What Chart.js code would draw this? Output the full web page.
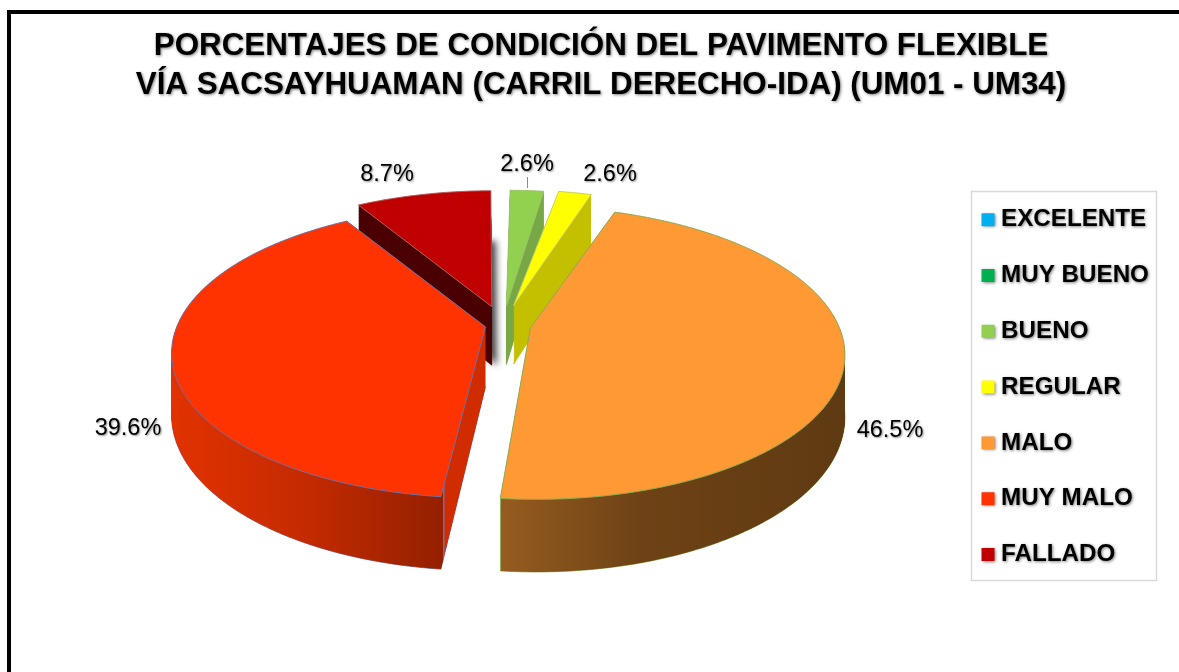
<!DOCTYPE html>
<html><head><meta charset="utf-8">
<style>
html,body{margin:0;padding:0;background:#fff;overflow:hidden;width:1179px;height:672px}
#frame{position:absolute;left:7px;top:10px;width:2000px;height:2000px;border:4px solid #000}
canvas{position:absolute;left:0;top:0}
</style>
<script src="https://cdn.jsdelivr.net/npm/chart.js@4"></script>
</head><body><div id="frame"></div><canvas id="c" width="1179" height="672"></canvas>
<script>
const titleLines = ['PORCENTAJES DE CONDICIÓN DEL PAVIMENTO FLEXIBLE','VÍA SACSAYHUAMAN (CARRIL DERECHO-IDA) (UM01 - UM34)'];
const categories = ['EXCELENTE','MUY BUENO','BUENO','REGULAR','MALO','MUY MALO','FALLADO'];
const values = [0,0,2.6,2.6,46.5,39.6,8.7];
const faceColors = ['#00B0F0','#00B050','#92D050','#FFFF00','#FF9933','#FF3300','#C00000'];
const edgeColors = ['#9ac46a','#9ac46a','#9ac46a','#c8d060','#8fae55','#6f6fa8','#b06060'];
// Chart.js shifts an arc by offset/4
const explode = [0,0,170,180,112,72,170];
const labelX = [null,null,527,610,890,128,387];
const labelY = [null,null,165,175,431,429,175];
// draw order: back slices first
const paintOrder = [6,2,3,4,5];
// 3D view
const V = {Xc:503, Yc:325, k:0.459, q:0.17, R:308, H:60};

function sideFill(ctx,i){
  const g = ctx.createLinearGradient(0,0,1179,0);
  const st=(x,c)=>g.addColorStop(Math.min(1,x/1179),c);
  if(i===6){st(0,'#4a0000');st(1179,'#4a0000');}
  else if(i===2){st(0,'#78a845');st(1179,'#78a845');}
  else if(i===3){st(0,'#c4c000');st(1179,'#c4c000');}
  else if(i===4){st(0,'#8fae55');st(501,'#8fae55');st(501.5,'#955c20');st(640,'#6e4215');st(850,'#5e3a12');st(1179,'#5e3a12');}
  else if(i===5){st(170,'#e23200');st(300,'#c62b00');st(443,'#942000');st(443.2,'#6f6fa8');st(444.4,'#6f6fa8');st(444.6,'#d02c00');st(1179,'#d02c00');}
  return g;
}

function projector(real,arc,z){
  let tx=0,ty=0;const stack=[];
  const P=(x,y)=>{
    const ux=x+tx-arc.x, uy=y+ty-arc.y, s=1/(1-V.q*uy/V.R);
    return [V.Xc+ux*s, V.Yc+V.k*uy*s+z*s];
  };
  // the library grows an exploded arc's radius; hold every rim point at the view radius
  const line=(x,y)=>{
    const dx=x-arc.x,dy=y-arc.y,d=Math.hypot(dx,dy);
    if(d>V.R){x=arc.x+dx*V.R/d;y=arc.y+dy*V.R/d;}
    const p=P(x,y);real.lineTo(p[0],p[1]);
  };
  const api={
    save(){stack.push([tx,ty]);real.save();},
    restore(){[tx,ty]=stack.pop();real.restore();},
    translate(a,b){tx+=a;ty+=b;},
    lineTo:line,
    moveTo(x,y){const p=P(x,y);real.moveTo(p[0],p[1]);},
    arc(x,y,r,a0,a1,ccw){
      if(r<=0){line(x,y);return;}
      r=V.R;
      if(ccw){while(a1>a0)a1-=Math.PI*2;}else{while(a1<a0)a1+=Math.PI*2;}
      const n=Math.max(2,Math.ceil(Math.abs(a1-a0)/0.01));
      for(let j=0;j<=n;j++){const a=a0+(a1-a0)*j/n;line(x+r*Math.cos(a),y+r*Math.sin(a));}
    }
  };
  return new Proxy(real,{
    get(t,p){if(p in api)return api[p];const v=t[p];return typeof v==='function'?v.bind(t):v;},
    set(t,p,v){t[p]=v;return true;}
  });
}

const pie3d = {
  id:'pie3d',
  beforeDraw(chart){
    const c=chart.ctx;
    c.save();c.fillStyle='#fff';c.strokeStyle='#d9d9d9';c.lineWidth=1.5;
    c.fillRect(971.5,191.5,185,389);c.strokeRect(971.5,191.5,185,389);c.restore();
    c.shadowColor='rgba(0,0,0,0.5)';c.shadowBlur=3;c.shadowOffsetX=1;c.shadowOffsetY=1;
  },
  afterLayout(chart){
    const t=chart.titleBlock;t.left=23;t.right=1179;t.width=1156;t.top=27;t.bottom=t.top+t.height;
    const l=chart.legend,w=l.width,h=l.height;
    l.left=987-l.options.labels.padding;l.right=l.left+w;l.top=176;l.bottom=l.top+h;
  },
  beforeDatasetDraw(chart){
    const c=chart.ctx;
    c.shadowColor='transparent';c.shadowBlur=0;c.shadowOffsetX=0;c.shadowOffsetY=0;
    const arcs=chart.getDatasetMeta(0).data;
    for(const i of paintOrder){
      const a=arcs[i],o=a.options;
      if(i===6){
        c.save();c.shadowColor='rgba(0,0,0,0.75)';c.shadowBlur=7;c.shadowOffsetX=5;c.shadowOffsetY=0;
        a.options={...o,borderWidth:0,backgroundColor:'#4a0000'};
        a.draw(projector(c,a,V.H));c.restore();
      }
      a.options={...o,borderWidth:1,borderColor:edgeColors[i],backgroundColor:'rgba(0,0,0,0)'};
      a.draw(projector(c,a,V.H));
      const g=sideFill(c,i);
      for(let z=V.H;z>0;z-=0.5){
        a.options={...o,borderWidth:0,backgroundColor:g};
        a.draw(projector(c,a,z));
      }
      a.options=o;
      a.draw(projector(c,a,0));
    }
    return false;
  },
  afterDraw(chart){
    const c=chart.ctx;
    c.save();
    c.strokeStyle='#8c8c8c';c.lineWidth=1;c.beginPath();c.moveTo(527.5,177);c.lineTo(527.5,188);c.stroke();
    c.shadowColor='rgba(0,0,0,0.45)';c.shadowBlur=2;c.shadowOffsetX=1;c.shadowOffsetY=1;
    c.fillStyle='#000';c.font='23.5px "Liberation Sans"';c.textAlign='center';c.textBaseline='middle';
    values.forEach((v,i)=>{if(v>0)c.fillText(v.toFixed(1)+'%',labelX[i],labelY[i]);});
    c.restore();
  }
};

new Chart(document.getElementById('c'),{
  type:'pie',
  data:{labels:categories,datasets:[{data:values,backgroundColor:faceColors,borderColor:edgeColors,borderWidth:1,borderJoinStyle:'round',offset:explode,clip:false}]},
  options:{
    responsive:false,animation:false,events:[],
    radius:V.R,
    layout:{padding:0},
    plugins:{
      tooltip:{enabled:false},
      title:{display:true,text:titleLines,color:'#000',padding:0,
        font:{family:'"Liberation Sans"',size:31.35,weight:'bold',lineHeight:1.24}},
      legend:{position:'right',align:'start',
        labels:{usePointStyle:true,pointStyle:'rect',boxWidth:2,boxHeight:13,padding:31.6,color:'#000',
          font:{family:'"Liberation Sans"',size:24.2,weight:'bold'},
          generateLabels(chart){
            return Chart.overrides.pie.plugins.legend.labels.generateLabels(chart).map(x=>({...x,lineWidth:0}));
          }}}
    }
  },
  plugins:[pie3d]
});
</script></body></html>
